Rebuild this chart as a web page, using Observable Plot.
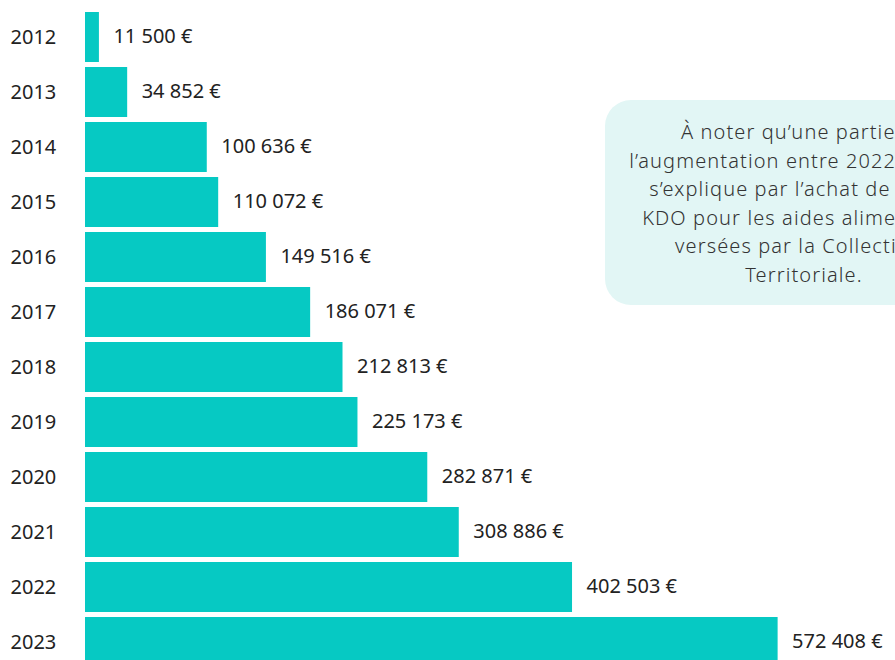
<!DOCTYPE html>
<html>
<head>
<meta charset="utf-8">
<script src="https://cdn.jsdelivr.net/npm/d3@7"></script>
<script src="https://cdn.jsdelivr.net/npm/@observablehq/plot@0.6"></script>
<style>
  html, body { margin: 0; padding: 0; background: #fff; overflow: hidden; width: 895px; height: 660px; }
  #wrap { position: relative; width: 895px; height: 660px; overflow: hidden; }
  #note {
    position: absolute; left: 605px; top: 100px; width: 398px; height: 205px;
    background: #e2f6f5; border-radius: 26px; box-sizing: border-box;
    padding-top: 18px; text-align: center; white-space: nowrap;
    font-family: "Noto Sans", sans-serif; font-weight: 300; font-size: 20px; line-height: 28.6px; color: #333;
    letter-spacing: 1.1px;
  }
</style>
</head>
<body>
<div id="wrap"></div>
<script>
const years = ["2012","2013","2014","2015","2016","2017","2018","2019","2020","2021","2022","2023"];
const amounts = [11500, 34852, 100636, 110072, 149516, 186071, 212813, 225173, 282871, 308886, 402503, 572408];
const noteLines = [
  "À noter qu’une partie de",
  "l’augmentation entre 2022 et 2023",
  "s’explique par l’achat de cartes",
  "KDO pour les aides alimentaires",
  "versées par la Collectivité",
  "Territoriale."
];

const data = years.map((y, i) => ({year: y, amount: amounts[i]}));
const fmt = v => d3.format(",")(v).replace(/,/g, " ") + " €";

const chart = Plot.plot({
  width: 895,
  height: 672,
  marginLeft: 85,
  marginRight: 84,
  marginTop: 7,
  marginBottom: 0,
  style: {fontFamily: "'Noto Sans', sans-serif", fontSize: "20px", color: "#222", background: "transparent", overflow: "hidden"},
  x: {domain: [0, 600000], axis: null},
  y: {domain: years, padding: 5 / 55, label: null},
  marks: [
    Plot.barX(data, {x: "amount", y: "year", fill: "#06c9c3"}),
    Plot.text(data, {x: "amount", y: "year", text: d => fmt(d.amount), textAnchor: "start", dx: 14, fill: "#222", fontSize: 20, dy: -1}),
    Plot.axisY({tickSize: 0, tickPadding: 75, textAnchor: "start", fontSize: 20, label: null, fill: "#222"})
  ]
});
const wrap = document.getElementById("wrap");
wrap.appendChild(chart);
const note = document.createElement("div");
note.id = "note";
note.innerHTML = noteLines.join("<br>");
wrap.appendChild(note);
</script>
</body>
</html>
